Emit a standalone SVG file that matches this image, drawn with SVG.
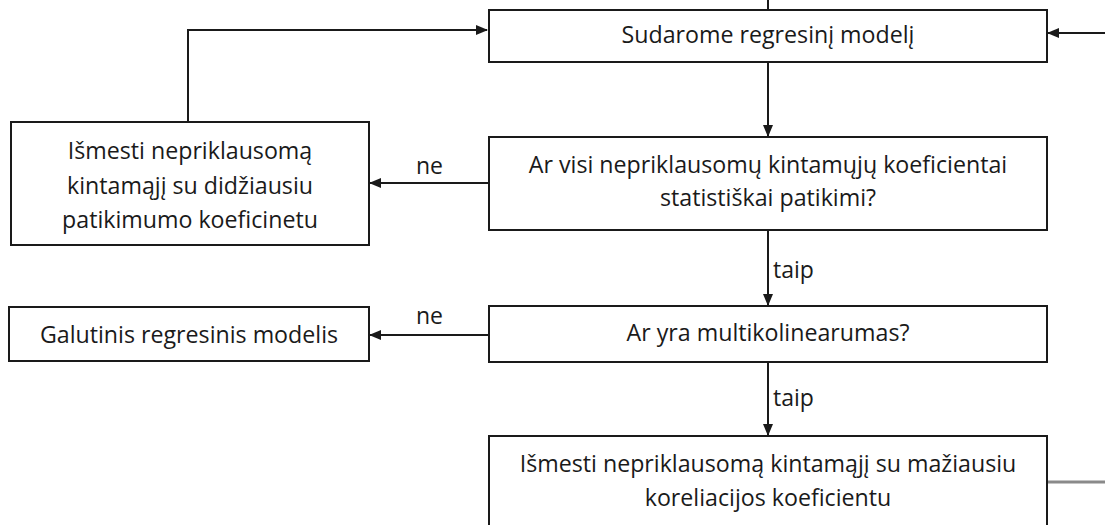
<svg xmlns="http://www.w3.org/2000/svg" width="1105" height="525" viewBox="0 0 1105 525">
<style>
.box{fill:#fff;stroke:#1a1a1a;stroke-width:2}
.t{font-family:"Open Sans","Liberation Sans",Arial,sans-serif;font-size:23.2px;fill:#1a1a1a;text-anchor:middle}
.l{font-family:"Open Sans","Liberation Sans",Arial,sans-serif;font-size:23px;fill:#1a1a1a}
.c{fill:none;stroke:#1a1a1a;stroke-width:2}
</style>
<defs>
<marker id="ah" markerWidth="12" markerHeight="10" refX="11" refY="5" orient="auto" markerUnits="userSpaceOnUse">
<path d="M0,0 L12,5 L0,10 Z" fill="#1a1a1a"/>
</marker>
</defs>
<g id="connectors">
<line class="c" x1="768" y1="0" x2="768" y2="10"/>
<line class="c" x1="1105" y1="33" x2="1048" y2="33" marker-end="url(#ah)"/>
<line class="c" x1="768" y1="62" x2="768" y2="136" marker-end="url(#ah)"/>
<polyline class="c" points="188,121 188,30 487,30" marker-end="url(#ah)"/>
<line class="c" x1="489" y1="183" x2="370" y2="183" marker-end="url(#ah)"/>
<line class="c" x1="768" y1="231" x2="768" y2="305" marker-end="url(#ah)"/>
<line class="c" x1="489" y1="335" x2="370" y2="335" marker-end="url(#ah)"/>
<line class="c" x1="768" y1="362" x2="768" y2="435" marker-end="url(#ah)"/>
<line x1="1047" y1="482" x2="1105" y2="482" stroke="#8a8a8a" stroke-width="3"/>
<text class="l" x="416" y="174">ne</text>
<text class="l" x="773" y="278">taip</text>
<text class="l" x="416" y="324">ne</text>
<text class="l" x="773" y="406">taip</text>
</g>
<g id="n1">
<rect class="box" x="489" y="10" width="558" height="52"/>
<text class="t" x="768" y="43">Sudarome regresinį modelį</text>
</g>
<g id="n2">
<rect class="box" x="489" y="137" width="558" height="93"/>
<text class="t" x="768" y="173">Ar visi nepriklausomų kintamųjų koeficientai</text>
<text class="t" x="768" y="206">statistiškai patikimi?</text>
</g>
<g id="n3">
<rect class="box" x="11" y="122" width="358" height="123"/>
<text class="t" x="190" y="159">Išmesti nepriklausomą</text>
<text class="t" x="190" y="194">kintamąjį su didžiausiu</text>
<text class="t" x="190" y="228">patikimumo koeficinetu</text>
</g>
<g id="n4">
<rect class="box" x="489" y="306" width="558" height="56"/>
<text class="t" x="768" y="341">Ar yra multikolinearumas?</text>
</g>
<g id="n5">
<rect class="box" x="9" y="307" width="360" height="54"/>
<text class="t" x="189" y="343">Galutinis regresinis modelis</text>
</g>
<g id="n6">
<rect class="box" x="489" y="436" width="558" height="100"/>
<text class="t" x="768" y="472">Išmesti nepriklausomą kintamąjį su mažiausiu</text>
<text class="t" x="768" y="506">koreliacijos koeficientu</text>
</g>
</svg>
